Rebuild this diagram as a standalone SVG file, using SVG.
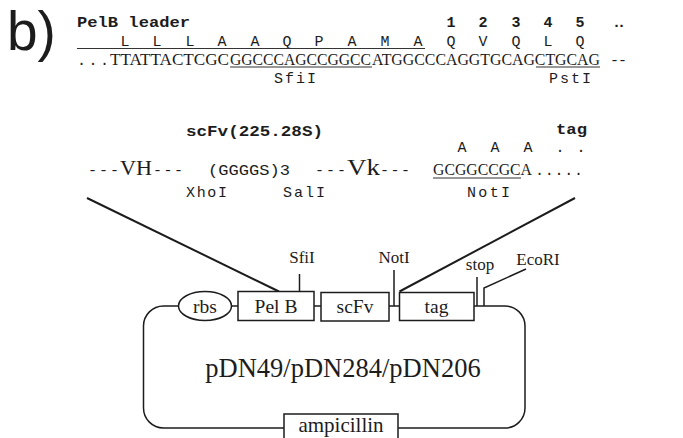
<svg xmlns="http://www.w3.org/2000/svg" width="683" height="438" viewBox="0 0 683 438">
<style>
text{fill:#1c1c1c}
.mono{font-family:"Liberation Mono","DejaVu Sans Mono",monospace;font-size:15px}
.monob{font-family:"Liberation Mono","DejaVu Sans Mono",monospace;font-size:15px;font-weight:bold}
.serif{font-family:"Liberation Serif","Times New Roman",serif}
.dna{font-family:"Liberation Serif","Times New Roman",serif;font-size:17px}
.lbl{font-family:"Liberation Serif","Times New Roman",serif;font-size:17px;text-anchor:middle}
.blbl{font-family:"Liberation Serif","Times New Roman",serif;font-size:19.5px;text-anchor:middle}
.mid{text-anchor:middle}
.box{fill:#fff;stroke:#1c1c1c;stroke-width:1.5}
.ln{fill:none;stroke:#1c1c1c;stroke-width:1.5}
.diag{fill:none;stroke:#1c1c1c;stroke-width:2}
.ul{stroke:#333;stroke-width:1.2}
</style>
<rect width="683" height="438" fill="#fff"/>
<text x="7" y="50" font-family="Liberation Sans, Arial, sans-serif" font-size="55">b)</text>

<g id="pelb-sequence">
<text class="monob" x="77" y="27" textLength="113" lengthAdjust="spacingAndGlyphs">PelB leader</text>
<text class="monob mid" x="451 483 516 548 580" y="27">12345</text>
<text class="monob" x="612" y="27" textLength="14" lengthAdjust="spacing">..</text>
<text class="mono mid" x="125 157 190 222 255 287 319 352 385 418 451 483 516 548 580" y="46">LLLAAQPAMAQVQLQ</text>
<line class="ul" x1="77" y1="48.5" x2="425" y2="48.5"/>
<text class="mono" x="77" y="64.5" font-size="17" textLength="32" lengthAdjust="spacing">...</text>
<text class="dna" x="110" y="64.5" textLength="119" lengthAdjust="spacingAndGlyphs">TTATTACTCGC</text>
<text class="dna" x="230" y="64.5" textLength="141" lengthAdjust="spacingAndGlyphs">GGCCCAGCCGGCC</text>
<text class="dna" x="372" y="64.5" font-size="16" textLength="228" lengthAdjust="spacingAndGlyphs" style="font-size:16px">ATGGCCCAGGTGCAGCTGCAG</text>
<text class="mono" x="610" y="64.5" textLength="17" lengthAdjust="spacing">--</text>
<line class="ul" x1="230" y1="67" x2="372" y2="67"/>
<line class="ul" x1="536" y1="67" x2="600" y2="67"/>
<text class="mono mid" x="295" y="83" textLength="42" lengthAdjust="spacing">SfiI</text>
<text class="mono mid" x="570" y="83" textLength="42" lengthAdjust="spacing">PstI</text>
</g>

<g id="scfv-sequence">
<text class="monob" x="186" y="136" textLength="137" lengthAdjust="spacingAndGlyphs">scFv(225.28S)</text>
<text class="monob" x="556" y="134" textLength="31" lengthAdjust="spacingAndGlyphs">tag</text>
<text class="mono mid" x="462 495 528 560 581" y="152">AAA..</text>
<text class="mono" x="88" y="175" textLength="31" lengthAdjust="spacing">---</text>
<text class="serif" x="120" y="175" font-size="22" textLength="32" lengthAdjust="spacingAndGlyphs">VH</text>
<text class="mono" x="153" y="175" textLength="30" lengthAdjust="spacing">---</text>
<text class="mono" x="208" y="175" textLength="82" lengthAdjust="spacingAndGlyphs">(GGGGS)3</text>
<text class="mono" x="315" y="175" textLength="31" lengthAdjust="spacing">---</text>
<text class="serif" x="347" y="175" font-size="23" textLength="33" lengthAdjust="spacingAndGlyphs">Vk</text>
<text class="mono" x="380" y="175" textLength="30" lengthAdjust="spacing">---</text>
<text class="dna" x="433" y="175" textLength="99" lengthAdjust="spacingAndGlyphs">GCGGCCGCA</text>
<text class="mono" x="535" y="175" textLength="48" lengthAdjust="spacing">.....</text>
<line class="ul" x1="433" y1="178" x2="521" y2="178"/>
<text class="mono mid" x="206.5" y="197" textLength="41" lengthAdjust="spacing">XhoI</text>
<text class="mono mid" x="304" y="197" textLength="42" lengthAdjust="spacing">SalI</text>
<text class="mono mid" x="488.5" y="197" textLength="43" lengthAdjust="spacing">NotI</text>
</g>

<g id="connectors">
<line class="diag" x1="87" y1="198" x2="279" y2="291.5"/>
<line class="diag" x1="575" y1="198" x2="399.5" y2="291.5"/>
<rect class="ln" x="143.5" y="306" width="381.5" height="122" rx="20"/>
<line class="ln" x1="299.5" y1="274" x2="299.5" y2="291.5"/>
<line class="ln" x1="394" y1="270" x2="394" y2="306"/>
<line class="ln" x1="477" y1="277" x2="477" y2="306"/>
<polyline class="ln" points="526,269 484,288 484,306"/>
</g>

<g id="rbs">
<ellipse class="box" cx="205" cy="306" rx="26.5" ry="14.5"/>
<text class="blbl" x="205" y="313">rbs</text>
</g>
<g id="pelb">
<rect class="box" x="238" y="291.5" width="76" height="29"/>
<text class="blbl" x="276" y="313">Pel B</text>
</g>
<g id="scfv">
<rect class="box" x="321" y="292.5" width="68" height="28.5"/>
<text class="blbl" x="355" y="313">scFv</text>
</g>
<g id="tag">
<rect class="box" x="399.5" y="292.5" width="74.5" height="28"/>
<text class="blbl" x="436.5" y="313">tag</text>
</g>
<g id="ampicillin">
<rect class="box" x="284" y="414" width="114" height="40"/>
<text class="serif mid" x="341" y="432" font-size="21">ampicillin</text>
</g>
<g id="site-labels">
<text class="lbl" x="302" y="263">SfiI</text>
<text class="lbl" x="394" y="263">NotI</text>
<text class="lbl" x="480" y="270">stop</text>
<text class="lbl" x="538" y="265">EcoRI</text>
</g>
<g id="plasmid-name">
<text class="serif mid" x="343" y="377" font-size="26.5">pDN49/pDN284/pDN206</text>
</g>
</svg>
